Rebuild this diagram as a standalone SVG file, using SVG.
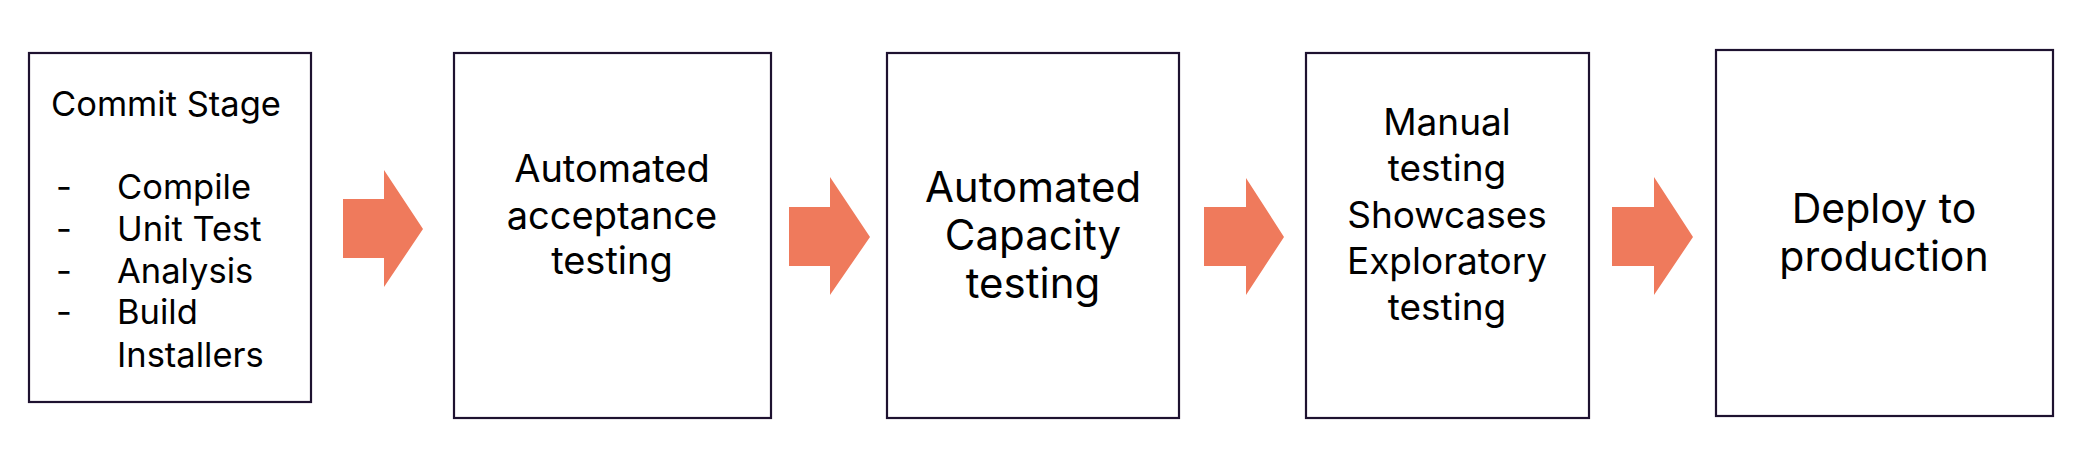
<svg xmlns="http://www.w3.org/2000/svg" width="2084" height="460" viewBox="0 0 2084 460">
<style>
.box{fill:#ffffff;stroke:#1e1230;stroke-width:2.2}
.arr{fill:#ef7a5c}
text{font-family:Inter,"DejaVu Sans",sans-serif;fill:#000000}
.t1{font-size:34.5px}
.t2{font-size:38px}
.t3{font-size:42px}
.t4{font-size:37px}
.t5{font-size:41px}
.c{text-anchor:middle}
</style>
<rect x="0" y="0" width="2084" height="460" fill="#ffffff"/>
<g id="connectors">
<polygon class="arr" points="343,199 384,199 384,170 423,229 384,287 384,258 343,258"/>
<polygon class="arr" points="789,207 830,207 830,177 870,237 830,295 830,266 789,266"/>
<polygon class="arr" points="1204,207 1246,207 1246,178 1284,237 1246,295 1246,266 1204,266"/>
<polygon class="arr" points="1612,207 1654,207 1654,177 1693,237 1654,295 1654,266 1612,266"/>
</g>
<g id="commit">
<rect class="box" x="29" y="53" width="282" height="349"/>
<text class="t1" x="51" y="116">Commit Stage</text>
<text class="t1" x="56" y="199">-</text><text class="t1" x="117" y="199">Compile</text>
<text class="t1" x="56" y="241">-</text><text class="t1" x="117" y="241">Unit Test</text>
<text class="t1" x="56" y="283">-</text><text class="t1" x="117" y="283">Analysis</text>
<text class="t1" x="56" y="324">-</text><text class="t1" x="117" y="324">Build</text>
<text class="t1" x="117" y="367">Installers</text>
</g>
<g id="acceptance">
<rect class="box" x="454" y="53" width="317" height="365"/>
<text class="t2 c" x="612" y="182">Automated</text>
<text class="t2 c" x="612" y="229">acceptance</text>
<text class="t2 c" x="612" y="274">testing</text>
</g>
<g id="capacity">
<rect class="box" x="887" y="53" width="292" height="365"/>
<text class="t3 c" x="1033" y="202">Automated</text>
<text class="t3 c" x="1033" y="250">Capacity</text>
<text class="t3 c" x="1033" y="298">testing</text>
</g>
<g id="manual">
<rect class="box" x="1306" y="53" width="283" height="365"/>
<text class="t4 c" x="1447" y="135">Manual</text>
<text class="t4 c" x="1447" y="181">testing</text>
<text class="t4 c" x="1447" y="228">Showcases</text>
<text class="t4 c" x="1447" y="274">Exploratory</text>
<text class="t4 c" x="1447" y="320">testing</text>
</g>
<g id="deploy">
<rect class="box" x="1716" y="50" width="337" height="366"/>
<text class="t5 c" x="1884" y="223">Deploy to</text>
<text class="t5 c" x="1884" y="271">production</text>
</g>
</svg>
